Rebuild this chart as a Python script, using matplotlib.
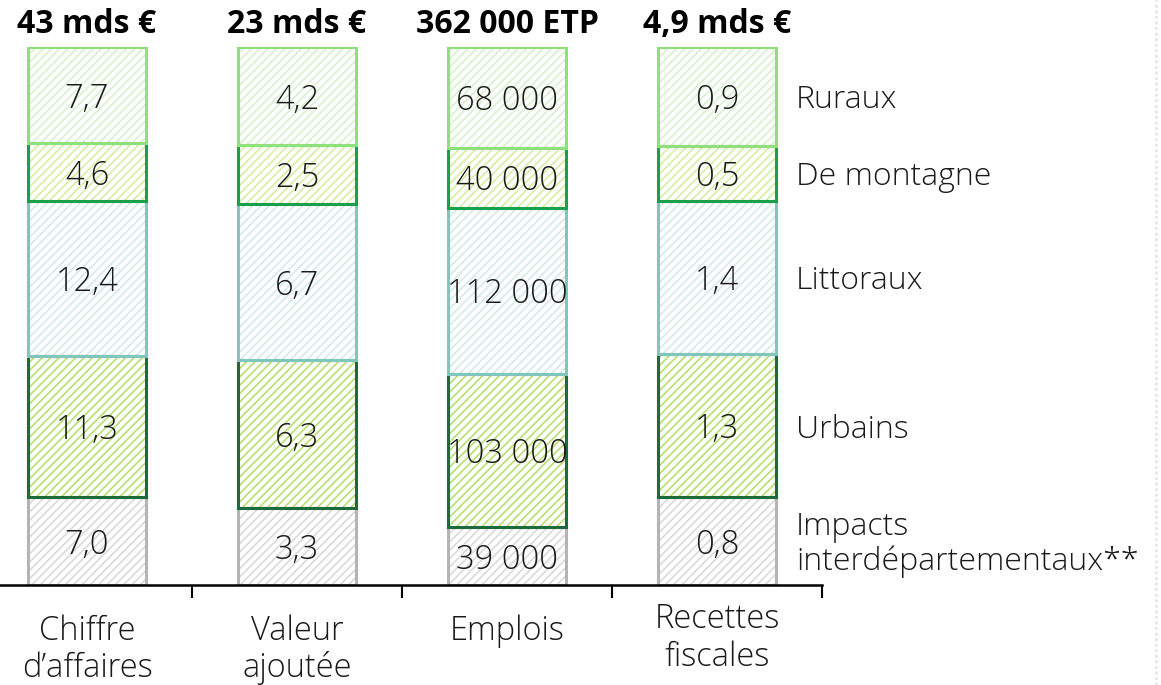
import numpy as np
import matplotlib
matplotlib.use("Agg")
import matplotlib.pyplot as plt
from matplotlib.lines import Line2D

plt.rcParams['font.family'] = ['Open Sans', 'DejaVu Sans']
plt.rcParams['hatch.linewidth'] = 1.2

categories = ["Chiffre\nd’affaires", "Valeur\najoutée", "Emplois", "Recettes\nfiscales"]
totals = ["43 mds €", "23 mds €", "362 000 ETP", "4,9 mds €"]
series = ["Impacts\ninterdépartementaux**", "Urbains", "Littoraux", "De montagne", "Ruraux"]

# valeurs par catégorie, de bas en haut
impacts = [7.0, 3.3, 39000, 0.8]
urbains = [11.3, 6.3, 103000, 1.3]
littoraux = [12.4, 6.7, 112000, 1.4]
montagne = [4.6, 2.5, 40000, 0.5]
ruraux = [7.7, 4.2, 68000, 0.9]

labels = [
    ["7,0", "3,3", "39 000", "0,8"],
    ["11,3", "6,3", "103 000", "1,3"],
    ["12,4", "6,7", "112 000", "1,4"],
    ["4,6", "2,5", "40 000", "0,5"],
    ["7,7", "4,2", "68 000", "0,9"],
]

edge_colors = ["#b4b4b4", "#1d6b3c", "#7fc6bd", "#18a04a", "#8ee07a"]
hatch_colors = ["#dadada", "#b8e070", "#d4ebe8", "#d6eda4", "#d8f2ce"]

values = np.array([impacts, urbains, littoraux, montagne, ruraux], dtype=float)
shares = values / values.sum(axis=0)

fig = plt.figure(figsize=(11.61, 6.85), dpi=100)
ax = fig.add_axes([-18 / 1161, 100 / 685, 840 / 1161, 538 / 685])

x = np.arange(len(categories))
w = 0.56
dy = 0.007
bottom = np.zeros(len(categories))
for i in range(len(series)):
    ax.bar(x, shares[i], w, bottom=bottom, color="white", edgecolor=hatch_colors[i],
           hatch="////", linewidth=0, zorder=2)
    ax.bar(x, shares[i], w, bottom=bottom, fill=False, edgecolor=edge_colors[i],
           linewidth=2.2, zorder=3 + i)
    for j in range(len(categories)):
        ax.text(x[j], bottom[j] + shares[i][j] / 2 - dy, labels[i][j], ha="center", va="center",
                fontsize=23.5, fontweight="light", color="#1a1a1a", zorder=10)
    ax.text(3 + 79 / 210, bottom[3] + shares[i][3] / 2 - dy, series[i], ha="left", va="center",
            fontsize=23, fontweight="light", color="#1a1a1a", linespacing=1.1)
    bottom += shares[i]

for j in range(len(categories)):
    ax.text(x[j], 1.011, totals[j], ha="center", va="bottom", fontsize=23,
            fontweight="bold", color="black")

ax.set_xlim(-0.5, 3.5)
ax.set_ylim(0, 1)
ax.set_xticks(x + 0.5)
ax.set_xticklabels([])
ax.tick_params(axis="x", length=9, width=1.5, color="black")
ax.set_yticks([])
for s in ["top", "right", "left"]:
    ax.spines[s].set_visible(False)
ax.spines["bottom"].set_linewidth(1.8)
ax.spines["bottom"].set_zorder(20)

for j in range(len(categories)):
    yy = 603 if j == 3 else 614
    fig.text((87 + 210 * j) / 1161, 1 - yy / 685, categories[j], ha="center", va="top",
             fontsize=23.5, fontweight="light", color="#1a1a1a", linespacing=1.15)

fig.add_artist(Line2D([1156 / 1161, 1156 / 1161], [0, 1], color="#e6e6e6", lw=2,
                      linestyle=(0, (1, 1))))

fig.savefig("out.png", dpi=100, facecolor="white")
